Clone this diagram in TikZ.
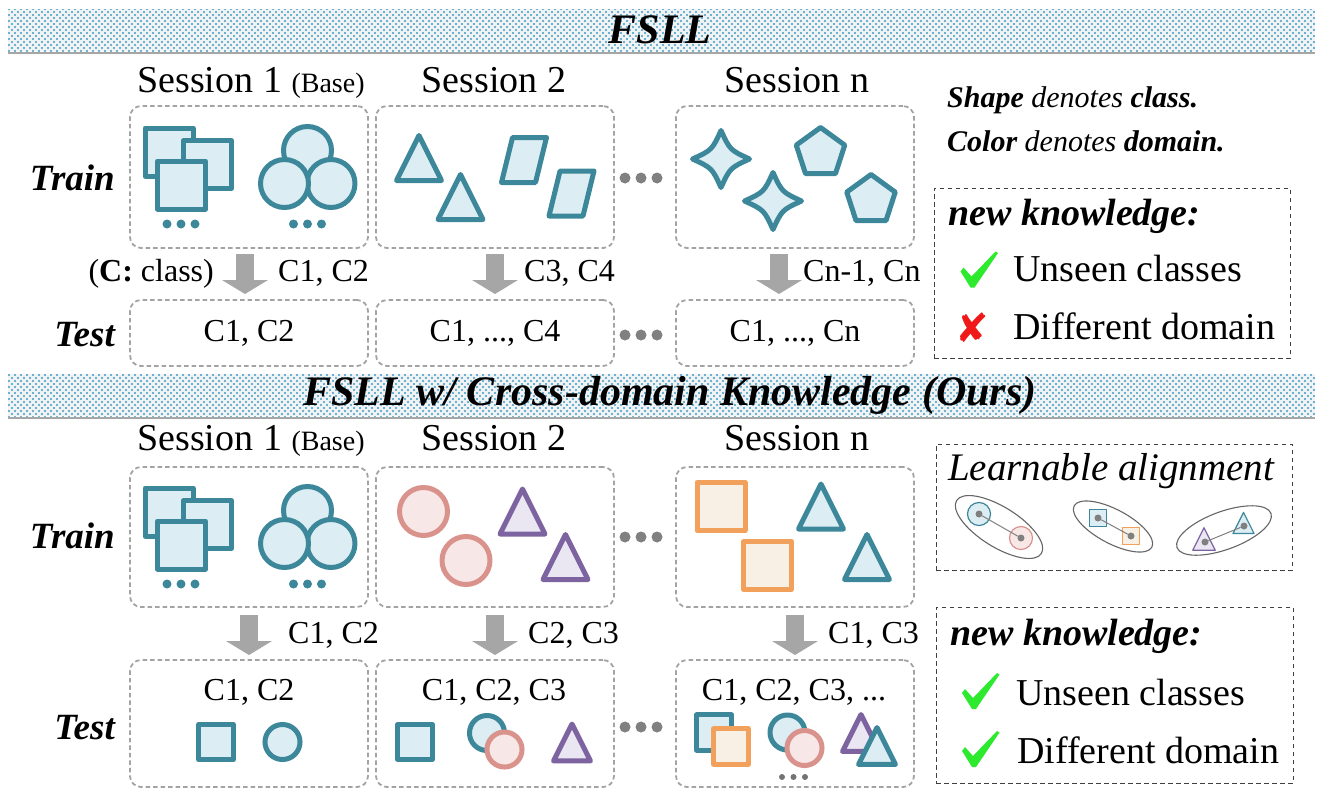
\documentclass[tikz,border=0pt]{standalone}
\usepackage{fontspec}
\setmainfont{Liberation Serif}
\newfontfamily\symfont{DejaVu Sans}
\usetikzlibrary{positioning,calc,arrows.meta,patterns.meta}

\definecolor{clsblue}{HTML}{3C8799}
\definecolor{clsbluelt}{HTML}{DCEDF3}
\definecolor{clspink}{HTML}{D9938C}
\definecolor{clspinklt}{HTML}{F8E7E7}
\definecolor{clspurple}{HTML}{7E63A1}
\definecolor{clspurplelt}{HTML}{EAE7F2}
\definecolor{clsorange}{HTML}{F2A15C}
\definecolor{clsorangelt}{HTML}{F8F0E4}
\definecolor{boxgray}{HTML}{A3A3A3}
\definecolor{arrgray}{HTML}{A6A6A6}
\definecolor{dotgray}{HTML}{808080}
\definecolor{bandblue}{HTML}{3E9CC2}
\definecolor{bandbg}{HTML}{F1F3F4}
\definecolor{okgreen}{HTML}{2EEA2E}
\definecolor{nored}{HTML}{F01818}

\tikzset{
  blueshape/.style={draw=clsblue,fill=clsbluelt,line width=5pt,line join=round},
  pinkshape/.style={draw=clspink,fill=clspinklt,line width=5pt,line join=round},
  purpleshape/.style={draw=clspurple,fill=clspurplelt,line width=5pt,line join=round},
  orangeshape/.style={draw=clsorange,fill=clsorangelt,line width=5pt,line join=round},
  sqr/.pic={\path[#1] (-24,-24) rectangle (24,24);},
  circ/.pic={\path[#1] (0,0) circle[radius=24];},
  tri/.pic={\path[#1] (0,-22.5) -- (22.5,22.5) -- (-22.5,22.5) -- cycle;},
  para/.pic={\path[#1] (-11.5,-22.5) -- (22.5,-22.5) -- (11.5,22.5) -- (-22.5,22.5) -- cycle;},
  pent/.pic={\path[#1] (-90:25.5) -- (-18:25.5) -- (54:25.5) -- (126:25.5) -- (198:25.5) -- cycle;},
  star/.pic={\path[#1] (0,-28.5) .. controls (9,-9) .. (28.5,0) .. controls (9,9) .. (0,28.5)
      .. controls (-9,9) .. (-28.5,0) .. controls (-9,-9) .. cycle;},
  tick/.pic={\fill[okgreen] (-18,2) -- (-15,-2) -- (-7,7) -- (17,-18) -- (19.5,-16.5)
      -- (-4,18) -- (-8,18) -- cycle;},
  baseset/.pic={
    \pic at (-80,-25) {sqr=blueshape};
    \pic at (-41.5,-12.5) {sqr=blueshape};
    \pic at (-67.5,8) {sqr=blueshape};
    \pic at (58.5,-26.5) {circ=blueshape};
    \pic at (82,6.5) {circ=blueshape};
    \pic at (35.5,6.5) {circ=blueshape};
    \foreach \x in {-82,-68,-54,44.5,58.5,72.5}
      \fill[clsblue] (\x,47) circle[radius=4.5];
  }
}

\begin{document}
\begin{tikzpicture}[x=1pt,y=-1pt,
    sessbox/.style={draw=boxgray,line width=1.8pt,dash pattern=on 4.5pt off 3pt,rounded corners=11pt,
      minimum width=238pt,inner sep=0pt,outer sep=0pt},
    legbox/.style={draw=black!75,line width=0.9pt,dash pattern=on 4.5pt off 3.5pt,inner sep=0pt},
    blockarrow/.style={draw=arrgray,line width=18pt,-{Triangle[width=46pt,length=14pt,line width=0pt]}},
    bandtitle/.style={font=\fontsize{42}{44}\selectfont\bfseries\itshape,inner sep=0pt},
    banddots/.style={pattern={Dots[distance=6pt,radius=1.1pt]},pattern color=bandblue},
    banddotsb/.style={pattern={Dots[distance=6pt,radius=1.1pt,xshift=3pt,yshift=3pt]},pattern color=bandblue},
    sesslabel/.style={font=\fontsize{38}{40}\selectfont,anchor=base,inner sep=0pt},
    rowlabel/.style={font=\fontsize{37}{40}\selectfont\bfseries\itshape,anchor=east,inner sep=0pt},
    cnote/.style={font=\fontsize{32}{34}\selectfont,anchor=base west,inner sep=0pt},
    celltext/.style={font=\fontsize{32}{34}\selectfont},
    legtext/.style={font=\fontsize{30}{32}\selectfont\itshape,anchor=base west,inner sep=0pt},
    knowtitle/.style={font=\fontsize{38}{40}\selectfont\bfseries\itshape,anchor=base west,inner sep=0pt},
    knowitem/.style={font=\fontsize{38}{40}\selectfont,anchor=base west,inner sep=0pt},
    nomark/.style={font=\symfont\fontsize{40}{40}\selectfont,text=nored,inner sep=0pt},
    adot/.style={circle,fill=dotgray,inner sep=0pt,minimum size=7pt},
    alink/.style={draw=dotgray,line width=1pt},
    ring/.style={draw=black!60,line width=1.1pt}]
  \useasboundingbox (0,0) rectangle (1320,798);

  % banners
  \fill[bandbg] (8,9) rectangle (1315,51);
  \fill[banddots] (8,9) rectangle (1315,51);
  \fill[banddotsb] (8,9) rectangle (1315,51);
  \draw[black!35,line width=2pt] (8,52.5) -- (1315,52.5);
  \node[bandtitle] (bandA) at (660,30) {FSLL};

  \fill[bandbg] (8,374) rectangle (1315,416);
  \fill[banddots] (8,374) rectangle (1315,416);
  \fill[banddotsb] (8,374) rectangle (1315,416);
  \draw[black!35,line width=2pt] (8,417.5) -- (1315,417.5);
  \node[bandtitle] (bandB) at (670,395) {FSLL w/ Cross-domain Knowledge (Ours)};

  % FSLL: sessions
  \node[sessbox,minimum height=142pt] (trA1) at (249,177) {};
  \node[sessbox,minimum height=142pt] (trA2) [right=8pt of trA1] {};
  \node[sessbox,minimum height=142pt] (trA3) [right=62pt of trA2] {};
  \node[sessbox,minimum height=66pt] (teA1) [below=52pt of trA1] {};
  \node[sessbox,minimum height=66pt] (teA2) [below=52pt of trA2] {};
  \node[sessbox,minimum height=66pt] (teA3) [below=52pt of trA3] {};
  \node[celltext] (ctA1) at (teA1) {C1, C2};
  \node[celltext] (ctA2) at (teA2) {C1, ..., C4};
  \node[celltext] (ctA3) at (teA3) {C1, ..., Cn};

  \node[sesslabel] (sA1) at (251,92) {Session 1 {\fontsize{28}{30}\selectfont(Base)}};
  \node[sesslabel] (sA2) at (494,92) {Session 2};
  \node[sesslabel] (sA3) at (797,92) {Session n};
  \node[rowlabel] (trainA) at (115,178) {Train};
  \node[rowlabel] (testA) at (115,335) {Test};

  \pic at (trA1) {baseset};
  \pic at (419,158) {tri=blueshape};
  \pic at (460.5,197) {tri=blueshape};
  \pic at (524,160) {para=blueshape};
  \pic at (571.5,193.5) {para=blueshape};
  \pic at (721,159) {star=blueshape};
  \pic at (773,201) {star=blueshape};
  \pic at (820.5,153) {pent=blueshape};
  \pic at (871,200) {pent=blueshape};
  \foreach \x in {625,641,657} {
    \fill[dotgray] (\x,178) circle[radius=5.5];
    \fill[dotgray] (\x,335) circle[radius=5.5];
  }

  \draw[blockarrow] ($(trA1.south)+(-4,6)$) -- ($(teA1.north)+(-4,-6)$);
  \draw[blockarrow] ($(trA2.south)+(0,6)$) -- ($(teA2.north)+(0,-6)$);
  \draw[blockarrow] ($(trA3.south)+(-16,6)$) -- ($(teA3.north)+(-16,-6)$);
  \node[cnote,anchor=base east] (keyA) at (214,281) {(\textbf{C:} class)};
  \node[cnote] (newA1) at (278,281) {C1, C2};
  \node[cnote] (newA2) at (524,281) {C3, C4};
  \node[cnote] (newA3) at (803,281) {Cn-1, Cn};

  % FSLL: legend
  \node[legtext] (noteA) at (947,107) {\textbf{Shape} denotes \textbf{class.}};
  \node[legtext] (noteB) at (947,151) {\textbf{Color} denotes \textbf{domain.}};
  \node[legbox,minimum width=356pt,minimum height=170pt] (legA) at (1112,273) {};
  \node[knowtitle] (knowA) at (948,225) {new knowledge:};
  \pic at (978.5,269.5) {tick};
  \node[knowitem] (itemA1) at (1013,281) {Unseen classes};
  \node[nomark] (noA2) at (972.5,328) {✘};
  \node[knowitem] (itemA2) at (1013,339) {Different domain};

  % cross-domain: sessions
  \node[sessbox,minimum height=140pt] (trB1) at (249,537) {};
  \node[sessbox,minimum height=140pt] (trB2) [right=8pt of trB1] {};
  \node[sessbox,minimum height=140pt] (trB3) [right=62pt of trB2] {};
  \node[sessbox,minimum height=127pt] (teB1) [below=53pt of trB1] {};
  \node[sessbox,minimum height=127pt] (teB2) [below=53pt of trB2] {};
  \node[sessbox,minimum height=127pt] (teB3) [below=53pt of trB3] {};
  \node[celltext,anchor=base] (ctB1) at (249,700) {C1, C2};
  \node[celltext,anchor=base] (ctB2) at (494,700) {C1, C2, C3};
  \node[celltext,anchor=base] (ctB3) at (794,700) {C1, C2, C3, ...};

  \node[sesslabel] (sB1) at (251,450) {Session 1 {\fontsize{28}{30}\selectfont(Base)}};
  \node[sesslabel] (sB2) at (494,450) {Session 2};
  \node[sesslabel] (sB3) at (797,450) {Session n};
  \node[rowlabel] (trainB) at (115,536) {Train};
  \node[rowlabel] (testB) at (115,728) {Test};

  \pic at (trB1) {baseset};
  \pic at (423.5,511.5) {circ=pinkshape};
  \pic at (466,560.5) {circ=pinkshape};
  \pic at (522.5,511.5) {tri=purpleshape};
  \pic at (565.5,557) {tri=purpleshape};
  \pic at (721,506.5) {sqr=orangeshape};
  \pic at (767.5,565.5) {sqr=orangeshape};
  \pic at (821,506.5) {tri=blueshape};
  \pic at (867,557) {tri=blueshape};
  \foreach \x in {625,641,657} {
    \fill[dotgray] (\x,537) circle[radius=5.5];
    \fill[dotgray] (\x,727) circle[radius=5.5];
  }

  \pic[scale=0.73] at (216,742) {sqr=blueshape};
  \pic[scale=0.73] at (282.5,742) {circ=blueshape};
  \pic[scale=0.73] at (415,742) {sqr=blueshape};
  \pic[scale=0.73] at (487,733) {circ=blueshape};
  \pic[scale=0.73] at (504.5,749.5) {circ=pinkshape};
  \pic[scale=0.82] at (572,742.5) {tri=purpleshape};
  \pic[scale=0.73] at (714,732.5) {sqr=blueshape};
  \pic[scale=0.73] at (731,746.5) {sqr=orangeshape};
  \pic[scale=0.73] at (787.5,732.5) {circ=blueshape};
  \pic[scale=0.73] at (804.5,748) {circ=pinkshape};
  \pic[scale=0.82] at (861,733) {tri=purpleshape};
  \pic[scale=0.82] at (877,746) {tri=blueshape};
  \foreach \x in {782,793.5,805}
    \fill[black!55] (\x,777) circle[radius=3];

  \draw[blockarrow] ($(trB1.south)+(0,8)$) -- ($(teB1.north)+(0,-5)$);
  \draw[blockarrow] ($(trB2.south)+(0,8)$) -- ($(teB2.north)+(0,-5)$);
  \draw[blockarrow] ($(trB3.south)+(0,8)$) -- ($(teB3.north)+(0,-5)$);
  \node[cnote] (newB1) at (288,643) {C1, C2};
  \node[cnote] (newB2) at (528,643) {C2, C3};
  \node[cnote] (newB3) at (828,643) {C1, C3};

  % cross-domain: legend
  \node[legbox,minimum width=356pt,minimum height=126pt] (legB) at (1114,507) {};
  \node[knowitem,font=\fontsize{39}{40}\selectfont\itshape] (alignB) at (948,480) {Learnable alignment};
  \draw[ring,rotate around={-32:(999,527)}] (999,527) ellipse [x radius=50,y radius=20];
  \draw[ring,rotate around={-28:(1113,526.5)}] (1113,526.5) ellipse [x radius=44,y radius=17];
  \draw[ring,rotate around={20:(1224,530.5)}] (1224,530.5) ellipse [x radius=50,y radius=19];
  \pic[scale=0.48] at (979,514) {circ={blueshape,line width=1.2pt}};
  \pic[scale=0.48] at (1021,538) {circ={pinkshape,line width=1.2pt}};
  \pic[scale=0.36] at (1098,518) {sqr={blueshape,line width=1.2pt}};
  \pic[scale=0.36] at (1131,536) {sqr={orangeshape,line width=1.2pt}};
  \pic[scale=0.5] at (1204,539) {tri={purpleshape,line width=1.2pt}};
  \pic[scale=0.47] at (1243.5,523) {tri={blueshape,line width=1.2pt}};
  \node[adot] (al1a) at (979,514) {};
  \node[adot] (al1b) at (1021,538) {};
  \node[adot] (al2a) at (1098,518) {};
  \node[adot] (al2b) at (1131,536) {};
  \node[adot] (al3a) at (1205,542) {};
  \node[adot] (al3b) at (1244,526) {};
  \draw[alink] (al1a) -- (al1b);
  \draw[alink] (al2a) -- (al2b);
  \draw[alink] (al3a) -- (al3b);

  \node[legbox,minimum width=357pt,minimum height=176pt] (legC) at (1114.5,695) {};
  \node[knowtitle] (knowC) at (950,645) {new knowledge:};
  \pic at (980,691) {tick};
  \node[knowitem] (itemC1) at (1016,705) {Unseen classes};
  \pic at (980,749) {tick};
  \node[knowitem] (itemC2) at (1017,763) {Different domain};
\end{tikzpicture}
\end{document}
